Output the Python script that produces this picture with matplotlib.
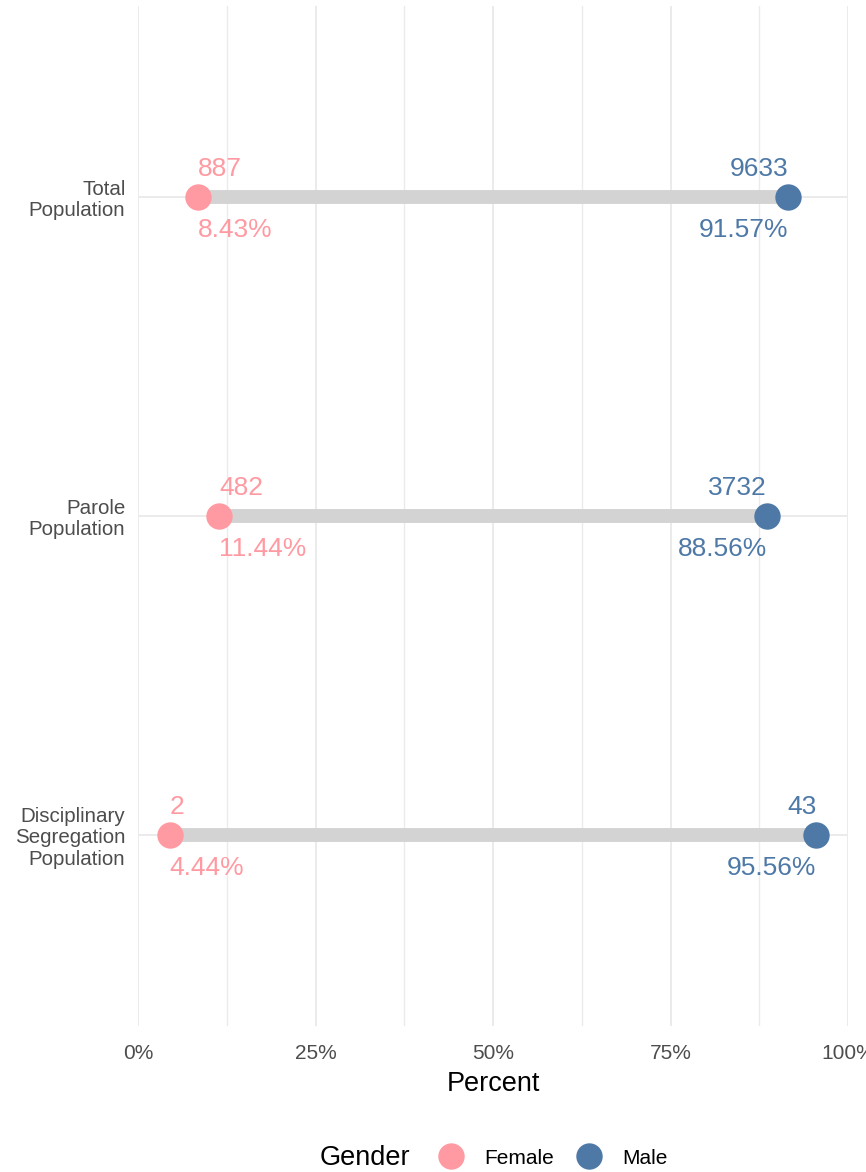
import matplotlib.pyplot as plt
from matplotlib.lines import Line2D

plt.rcParams['font.family'] = ['Liberation Sans', 'DejaVu Sans']

groups = ["Total\nPopulation", "Parole\nPopulation", "Disciplinary\nSegregation\nPopulation"]
female_pct = [8.43, 11.44, 4.44]
male_pct = [91.57, 88.56, 95.56]
female_n = [887, 482, 2]
male_n = [9633, 3732, 43]

female_col = "#FF9AA2"
male_col = "#4E79A7"
grid_col = "#EBEBEB"

fig = plt.figure(figsize=(8.66, 11.72), dpi=100)
ax = fig.add_axes([138/866, 146/1172, 710/866, 1020.4/1172])

ypos = [2, 1, 0]

# grid
for x in [12.5, 37.5, 62.5, 87.5]:
    ax.axvline(x, color=grid_col, lw=1.0, zorder=0)
for x in [0, 25, 50, 75, 100]:
    ax.axvline(x, color=grid_col, lw=1.4, zorder=0)
for y in ypos:
    ax.axhline(y, color=grid_col, lw=1.4, zorder=0)

for y, f, m, fn, mn in zip(ypos, female_pct, male_pct, female_n, male_n):
    ax.plot([f, m], [y, y], color="#D3D3D3", lw=10, solid_capstyle='butt', zorder=1)
    ax.plot(f, y, 'o', color=female_col, ms=19, mec='none', zorder=2)
    ax.plot(m, y, 'o', color=male_col, ms=19, mec='none', zorder=2)
    ax.text(f, y + 0.088, str(fn), color=female_col, fontsize=19, ha='left', va='center')
    ax.text(f, y - 0.103, f"{f:.2f}%", color=female_col, fontsize=19, ha='left', va='center')
    ax.text(m, y + 0.088, str(mn), color=male_col, fontsize=19, ha='right', va='center')
    ax.text(m, y - 0.103, f"{m:.2f}%", color=male_col, fontsize=19, ha='right', va='center')

ax.set_xlim(0, 100)
ax.set_ylim(-0.6, 2.6)
ax.set_xticks([0, 25, 50, 75, 100])
ax.set_xticklabels(["0%", "25%", "50%", "75%", "100%"], fontsize=15, color="#4D4D4D")
ax.set_yticks(ypos)
ax.set_yticklabels(groups, fontsize=14.8, color="#4D4D4D", ha='right', linespacing=1.15)
ax.tick_params(axis='x', length=0, pad=13)
ax.tick_params(axis='y', length=0, pad=9)
ax.set_xlabel("Percent", fontsize=19.5, labelpad=6)
for s in ax.spines.values():
    s.set_visible(False)

fig.text(365/866, 1 - 1158/1172, "Gender", fontsize=19.5, ha='center', va='center')
handles = [Line2D([], [], marker='o', ls='none', color=female_col, ms=19, mec='none'),
           Line2D([], [], marker='o', ls='none', color=male_col, ms=19, mec='none')]
fig.legend(handles, ["Female", "Male"], ncol=2, loc='center',
           bbox_to_anchor=(553/866, 1 - 1158/1172), frameon=False, fontsize=15,
           handlelength=1.2, handletextpad=1.0, columnspacing=1.1)

fig.savefig("out.png", dpi=100)
